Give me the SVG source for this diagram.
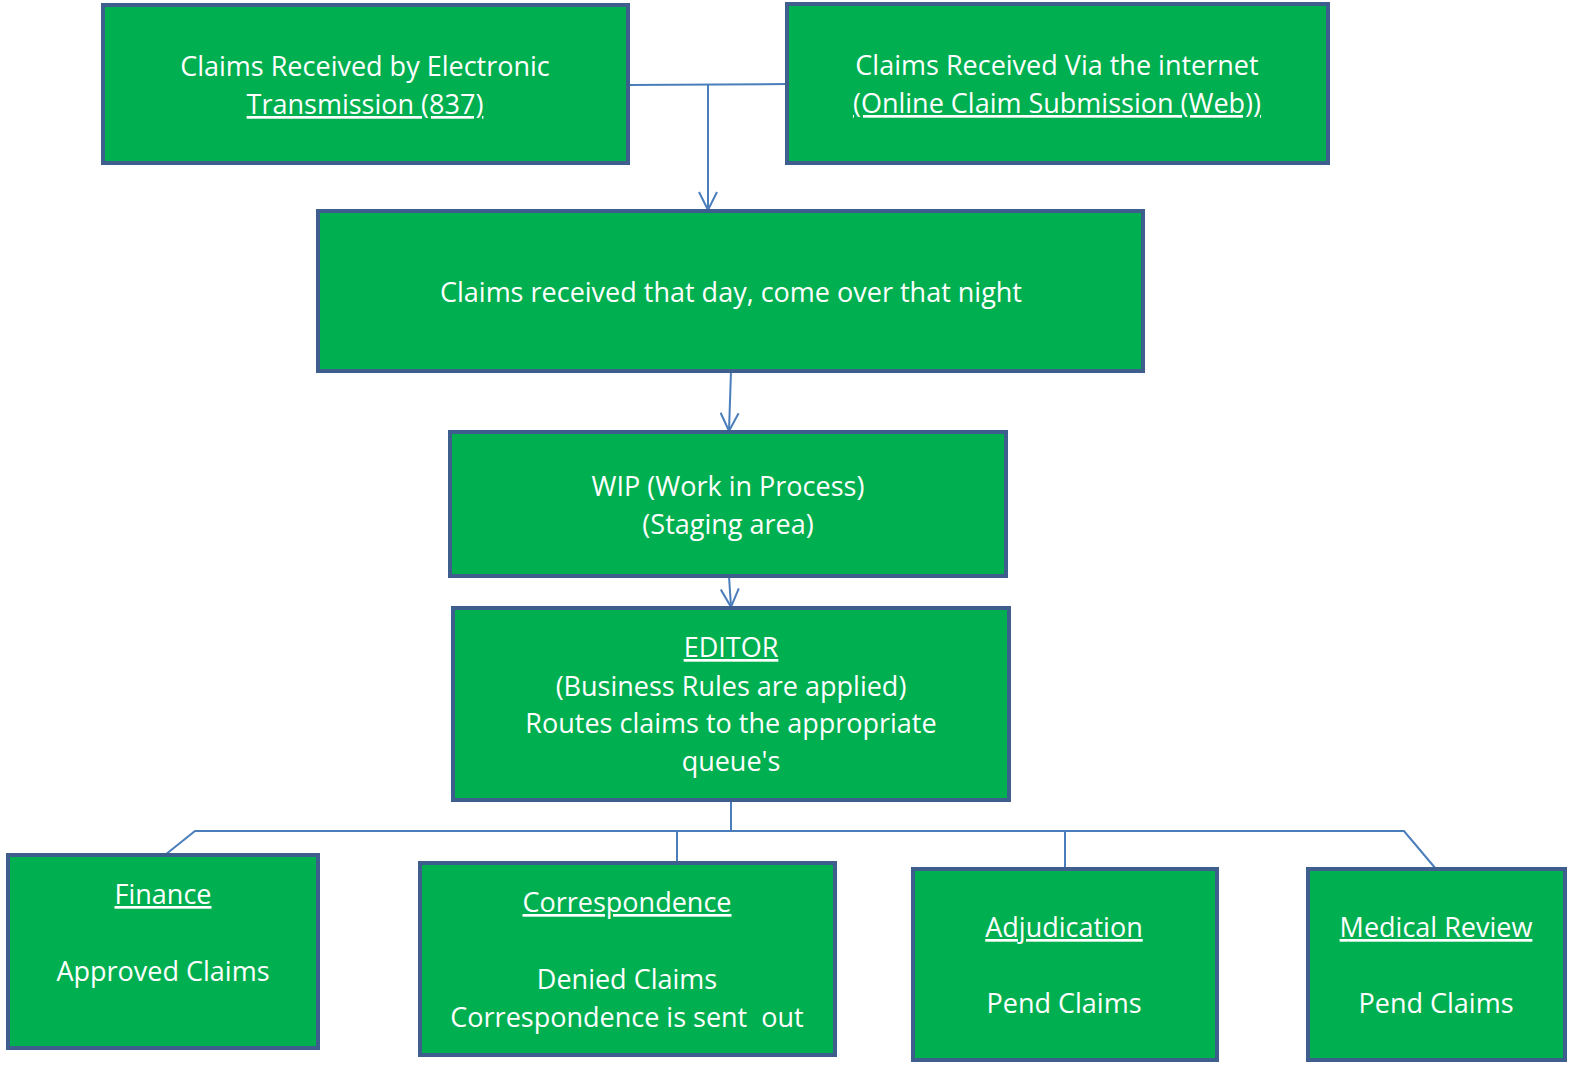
<svg xmlns="http://www.w3.org/2000/svg" width="1579" height="1071" viewBox="0 0 1579 1071">
<style>
.box{fill:#00B050;stroke:#3E5E8E;stroke-width:4}
.t{font-family:"Open Sans","Noto Sans",sans-serif;font-size:27px;fill:#FFFFFF;text-anchor:middle}
.u{text-decoration:underline}
.c{fill:none;stroke:#4A7EBB;stroke-width:2}
</style>
<defs>
<marker id="arr" viewBox="0 0 20 20" refX="19" refY="10" markerWidth="20" markerHeight="20" markerUnits="userSpaceOnUse" orient="auto">
<path d="M1,1 L19,10 L1,19" fill="none" stroke="#4A7EBB" stroke-width="2"/>
</marker>
</defs>
<rect width="1579" height="1071" fill="#FFFFFF"/>
<g id="connectors">
<path class="c" d="M628,85 L787,84"/>
<path class="c" d="M708,85 L708,210" marker-end="url(#arr)"/>
<path class="c" d="M731,371 L729,431" marker-end="url(#arr)"/>
<path class="c" d="M729,576 L731,607" marker-end="url(#arr)"/>
<path class="c" d="M731,800 L731,831"/>
<path class="c" d="M165,855 L195,831 L1404,831 L1436,869"/>
<path class="c" d="M677,831 L677,863"/>
<path class="c" d="M1065,831 L1065,869"/>
</g>
<g id="n1">
<rect class="box" x="103" y="5" width="525" height="158"/>
<text class="t" x="365" y="76">Claims Received by Electronic</text>
<text class="t u" x="365" y="114">Transmission (837)</text>
</g>
<g id="n2">
<rect class="box" x="787" y="4" width="541" height="159"/>
<text class="t" x="1057" y="75">Claims Received Via the internet</text>
<text class="t u" x="1057" y="113">(Online Claim Submission (Web))</text>
</g>
<g id="n3">
<rect class="box" x="318" y="211" width="825" height="160"/>
<text class="t" x="731" y="302">Claims received that day, come over that night</text>
</g>
<g id="n4">
<rect class="box" x="450" y="432" width="556" height="144"/>
<text class="t" x="728" y="496">WIP (Work in Process)</text>
<text class="t" x="728" y="534">(Staging area)</text>
</g>
<g id="n5">
<rect class="box" x="453" y="608" width="556" height="192"/>
<text class="t u" x="731" y="657">EDITOR</text>
<text class="t" x="731" y="696">(Business Rules are applied)</text>
<text class="t" x="731" y="733">Routes claims to the appropriate</text>
<text class="t" x="731" y="771">queue's</text>
</g>
<g id="n6">
<rect class="box" x="8" y="855" width="310" height="193"/>
<text class="t u" x="163" y="904">Finance</text>
<text class="t" x="163" y="981">Approved Claims</text>
</g>
<g id="n7">
<rect class="box" x="420" y="863" width="415" height="192"/>
<text class="t u" x="627" y="912">Correspondence</text>
<text class="t" x="627" y="989">Denied Claims</text>
<text class="t" x="627" y="1027" xml:space="preserve">Correspondence is sent  out</text>
</g>
<g id="n8">
<rect class="box" x="913" y="869" width="304" height="191"/>
<text class="t u" x="1064" y="937">Adjudication</text>
<text class="t" x="1064" y="1013">Pend Claims</text>
</g>
<g id="n9">
<rect class="box" x="1308" y="869" width="257" height="191"/>
<text class="t u" x="1436" y="937">Medical Review</text>
<text class="t" x="1436" y="1013">Pend Claims</text>
</g>
</svg>
